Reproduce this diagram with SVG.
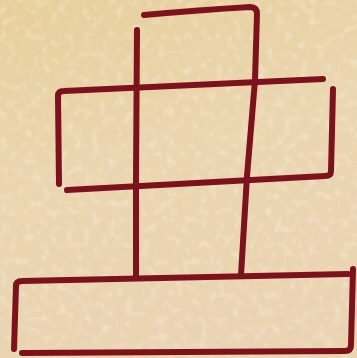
<svg xmlns="http://www.w3.org/2000/svg" width="357" height="358" viewBox="0 0 357 358">
<defs>
<linearGradient id="bg" x1="0" y1="0" x2="0.3" y2="1">
<stop offset="0" stop-color="#e7cf9a"/>
<stop offset="0.5" stop-color="#ead6b0"/>
<stop offset="1" stop-color="#ead4b2"/>
</linearGradient>
<filter id="tex" x="0" y="0" width="100%" height="100%">
<feTurbulence type="fractalNoise" baseFrequency="0.14" numOctaves="3" seed="7"/>
<feColorMatrix type="matrix" values="0 0 0 0 0.80  0 0 0 0 0.64  0 0 0 0 0.45  0 0 0 1.8 -0.85"/>
</filter>
<filter id="tex2" x="0" y="0" width="100%" height="100%">
<feTurbulence type="fractalNoise" baseFrequency="0.12" numOctaves="2" seed="3"/>
<feColorMatrix type="matrix" values="0 0 0 0 1  0 0 0 0 0.96  0 0 0 0 0.86  0 0 0 1.8 -0.9"/>
</filter>
<style>
.ink{fill:none;stroke:#7d121c;stroke-width:6;stroke-linecap:round;stroke-linejoin:round}
</style>
</defs>
<rect width="357" height="358" fill="url(#bg)"/>
<rect width="357" height="358" filter="url(#tex)" opacity="0.5"/>
<rect width="357" height="358" filter="url(#tex2)" opacity="0.5"/>
<g id="drawing">
<path class="ink" d="M144,15 Q200,10 250,7 Q257,7 257,14 L255,80 L247,176 L241,275"/>
<path class="ink" d="M137,30 L136,178 L136,276"/>
<path class="ink" d="M59,184 L58,96 Q58,91 64,91 L323,79"/>
<path class="ink" d="M333,89 L331,171 Q331,176 325,176 L67,190"/>
<path class="ink" d="M14,349 L16,286 Q16,281 22,281 L348,274"/>
<path class="ink" d="M353,269 L351,345 Q351,351 345,351 L22,353"/>
</g>
</svg>
